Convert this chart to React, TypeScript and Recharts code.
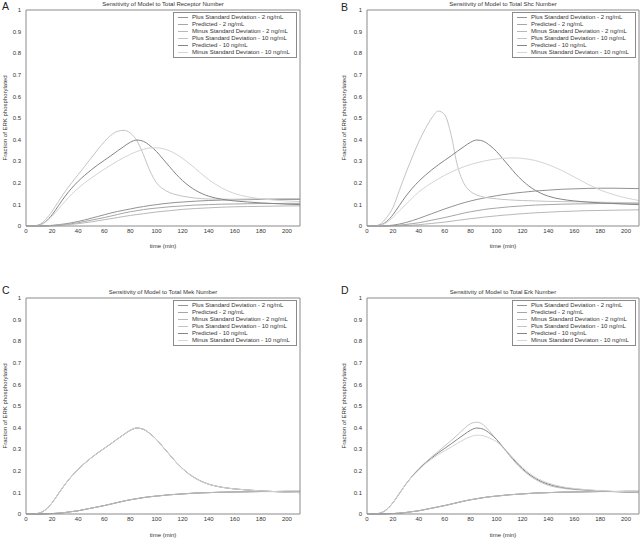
import { LineChart, Line, XAxis, YAxis, Legend, Label } from 'recharts';

// sample times (min)
const TIME = [0, 5, 10, 15, 20, 25, 30, 35, 40, 45, 50, 55, 60, 65, 70, 75, 80, 85, 90, 95, 100, 105, 110, 115, 120, 125, 130, 140, 150, 160, 170, 180, 190, 200, 210];
const X_TICKS = [0, 20, 40, 60, 80, 100, 120, 140, 160, 180, 200];
const Y_TICKS = [0, 0.1, 0.2, 0.3, 0.4, 0.5, 0.6, 0.7, 0.8, 0.9, 1];
const Y_TICK_LABELS = ['0', '0.1', '0.2', '0.3', '0.4', '0.5', '0.6', '0.7', '0.8', '0.9', '1'];

const SERIES_NAMES = [
  'Plus Standard Deviation - 2 ng/mL',
  'Predicted - 2 ng/mL',
  'Minus Standard Deviation - 2 ng/mL',
  'Plus Standard Deviation - 10 ng/mL',
  'Predicted - 10 ng/mL',
  'Minus Standard Deviaton - 10 ng/mL',
];
const SERIES_COLORS = ['#929292', '#a6a6a6', '#b8b8b8', '#c4c4c4', '#858585', '#d4d4d4'];

const TITLES = [
  'Sensitivity of Model to Total Receptor Number',
  'Sensitivity of Model to Total Shc Number',
  'Sensitivity of Model to Total Mek Number',
  'Sensitivity of Model to Total Erk Number',
];
const LETTERS = ['A', 'B', 'C', 'D'];

// baseline model curves
const PRED_10 = [0, 0, 0.004, 0.02, 0.052, 0.095, 0.138, 0.175, 0.207, 0.235, 0.26, 0.283, 0.304, 0.325, 0.347, 0.368, 0.388, 0.398, 0.392, 0.372, 0.345, 0.31, 0.275, 0.24, 0.21, 0.185, 0.165, 0.138, 0.124, 0.116, 0.111, 0.107, 0.104, 0.101, 0.099];
const PRED_2 = [0, 0, 0, 0.001, 0.002, 0.004, 0.007, 0.011, 0.015, 0.021, 0.027, 0.033, 0.039, 0.046, 0.053, 0.06, 0.066, 0.071, 0.076, 0.08, 0.083, 0.086, 0.089, 0.091, 0.093, 0.095, 0.097, 0.099, 0.101, 0.102, 0.103, 0.104, 0.104, 0.105, 0.105];

// A - receptor
const A_PLUS_2 = [0, 0, 0, 0.001, 0.003, 0.006, 0.01, 0.015, 0.021, 0.028, 0.036, 0.044, 0.052, 0.06, 0.067, 0.073, 0.079, 0.085, 0.09, 0.095, 0.099, 0.103, 0.106, 0.109, 0.111, 0.113, 0.115, 0.118, 0.12, 0.121, 0.122, 0.123, 0.123, 0.123, 0.123];
const A_MINUS_2 = [0, 0, 0, 0, 0.001, 0.003, 0.005, 0.008, 0.011, 0.015, 0.019, 0.024, 0.029, 0.034, 0.039, 0.044, 0.049, 0.053, 0.057, 0.061, 0.065, 0.068, 0.071, 0.074, 0.077, 0.079, 0.081, 0.084, 0.087, 0.089, 0.09, 0.091, 0.092, 0.093, 0.093];
const A_PLUS_10 = [0, 0, 0.006, 0.03, 0.068, 0.115, 0.16, 0.2, 0.238, 0.276, 0.315, 0.354, 0.39, 0.42, 0.438, 0.443, 0.43, 0.395, 0.33, 0.255, 0.2, 0.172, 0.155, 0.145, 0.138, 0.133, 0.129, 0.125, 0.124, 0.124, 0.125, 0.126, 0.126, 0.127, 0.127];
const A_MINUS_10 = [0, 0, 0.003, 0.018, 0.045, 0.08, 0.115, 0.147, 0.175, 0.2, 0.222, 0.243, 0.263, 0.282, 0.3, 0.317, 0.332, 0.345, 0.355, 0.361, 0.362, 0.358, 0.348, 0.333, 0.313, 0.29, 0.265, 0.215, 0.176, 0.15, 0.135, 0.126, 0.12, 0.116, 0.113];

// B - Shc
const B_PLUS_2 = [0, 0, 0, 0.001, 0.004, 0.009, 0.016, 0.025, 0.035, 0.046, 0.057, 0.068, 0.079, 0.089, 0.099, 0.108, 0.116, 0.123, 0.129, 0.135, 0.14, 0.145, 0.149, 0.153, 0.156, 0.159, 0.162, 0.166, 0.17, 0.172, 0.174, 0.175, 0.175, 0.174, 0.173];
const B_MINUS_2 = [0, 0, 0, 0, 0, 0.001, 0.002, 0.004, 0.006, 0.009, 0.012, 0.015, 0.018, 0.022, 0.026, 0.03, 0.034, 0.037, 0.041, 0.044, 0.047, 0.05, 0.052, 0.055, 0.057, 0.059, 0.061, 0.064, 0.067, 0.069, 0.071, 0.072, 0.073, 0.074, 0.075];
const B_PLUS_10 = [0, 0, 0.008, 0.038, 0.085, 0.165, 0.245, 0.32, 0.39, 0.45, 0.5, 0.532, 0.515, 0.42, 0.275, 0.195, 0.16, 0.143, 0.134, 0.129, 0.126, 0.123, 0.121, 0.119, 0.118, 0.117, 0.116, 0.114, 0.113, 0.112, 0.111, 0.11, 0.109, 0.108, 0.107];
const B_MINUS_10 = [0, 0, 0.003, 0.015, 0.04, 0.07, 0.1, 0.13, 0.158, 0.18, 0.2, 0.218, 0.235, 0.25, 0.263, 0.275, 0.285, 0.293, 0.3, 0.306, 0.31, 0.313, 0.315, 0.315, 0.313, 0.309, 0.303, 0.284, 0.258, 0.227, 0.195, 0.167, 0.146, 0.13, 0.118];

// D - Erk
const D_PLUS_10 = [0, 0, 0.004, 0.02, 0.052, 0.095, 0.138, 0.176, 0.21, 0.238, 0.265, 0.29, 0.315, 0.34, 0.367, 0.395, 0.418, 0.425, 0.412, 0.38, 0.345, 0.307, 0.27, 0.235, 0.205, 0.18, 0.16, 0.133, 0.12, 0.113, 0.109, 0.106, 0.104, 0.102, 0.1];
const D_MINUS_10 = [0, 0, 0.004, 0.02, 0.052, 0.095, 0.138, 0.174, 0.204, 0.232, 0.255, 0.275, 0.293, 0.31, 0.328, 0.345, 0.358, 0.365, 0.362, 0.35, 0.335, 0.308, 0.278, 0.245, 0.216, 0.19, 0.17, 0.143, 0.127, 0.118, 0.112, 0.108, 0.105, 0.103, 0.101];

// C: all variations overlap the prediction
const PANEL_SERIES = [
  [A_PLUS_2, PRED_2, A_MINUS_2, A_PLUS_10, PRED_10, A_MINUS_10],
  [B_PLUS_2, PRED_2, B_MINUS_2, B_PLUS_10, PRED_10, B_MINUS_10],
  [PRED_2, PRED_2, PRED_2, PRED_10, PRED_10, PRED_10],
  [PRED_2, PRED_2, PRED_2, D_PLUS_10, PRED_10, D_MINUS_10],
];

// layout
const LAYOUT = [
  { left: 0, top: 0, plotW: 274, letterX: 2, letterY: 10, yLabelOff: 5, xLabelOff: 8.5 },
  { left: 341, top: 0, plotW: 272, letterX: 341, letterY: 11, yLabelOff: 2.5, xLabelOff: 8.5 },
  { left: 0, top: 288, plotW: 274, letterX: 2, letterY: 294, yLabelOff: 5, xLabelOff: 7 },
  { left: 341, top: 288, plotW: 272, letterX: 341, letterY: 294, yLabelOff: 2.5, xLabelOff: 7 },
];

const FONT = '"Liberation Sans", Arial, sans-serif';
const FRAME = '#8a8a8a';
const INK = '#333';
const PLOT_H = 216;

function LegendBox() {
  return (
    <div style={{ border: `1px solid ${FRAME}`, background: '#fff', padding: '0.5px 3px 1px 4px', fontFamily: FONT, fontSize: 6, lineHeight: '7.1px', color: INK, whiteSpace: 'nowrap' }}>
      {SERIES_NAMES.map((n, i) => (
        <div key={n} style={{ display: 'flex', alignItems: 'center' }}>
          <span style={{ display: 'inline-block', width: 10, borderTop: `1px solid ${SERIES_COLORS[i]}`, marginRight: 4 }} />
          <span>{n}</span>
        </div>
      ))}
    </div>
  );
}

function Panel({ idx }: { idx: number }) {
  const lay = LAYOUT[idx];
  const series = PANEL_SERIES[idx];
  const rows = TIME.map((t, i) => {
    const r: Record<string, number> = { t };
    series.forEach((s, k) => { r['s' + k] = s[i]; });
    return r;
  });
  const W = 26 + lay.plotW + 2;
  const H = 10 + PLOT_H + 30;
  const axisText = { fontSize: 6, fill: INK, fontFamily: FONT };

  return (
    <div style={{ position: 'absolute', left: lay.left, top: lay.top, width: W, height: H }}>
      <LineChart width={W} height={H} data={rows} margin={{ top: 10, right: 2, bottom: 0, left: 0 }}>
        <XAxis xAxisId="b" dataKey="t" type="number" domain={[0, 210]} ticks={X_TICKS} interval={0}
          height={30} tickLine={false} tickSize={0} tickMargin={3} axisLine={{ stroke: FRAME }} tick={axisText}>
          <Label value="time (min)" position="insideBottom" offset={lay.xLabelOff} style={{ fontSize: 6, fill: INK, fontFamily: FONT }} />
        </XAxis>
        <XAxis xAxisId="bm" dataKey="t" type="number" domain={[0, 210]} ticks={X_TICKS} interval={0}
          orientation="bottom" mirror height={1} tick={false} tickSize={3} axisLine={false} tickLine={{ stroke: FRAME }} />
        <XAxis xAxisId="t" dataKey="t" type="number" domain={[0, 210]} ticks={X_TICKS} interval={0}
          orientation="top" mirror height={1} tick={false} tickSize={3} axisLine={{ stroke: FRAME }} tickLine={{ stroke: FRAME }}>
          <Label value={TITLES[idx]} position="top" offset={4} style={{ fontSize: 6, fill: INK, fontFamily: FONT }} />
        </XAxis>
        <YAxis yAxisId="l" type="number" domain={[0, 1]} ticks={Y_TICKS} interval={0} width={26}
          tickLine={false} tickSize={0} tickMargin={5} axisLine={{ stroke: FRAME }} tick={axisText}
          tickFormatter={(v: number, i: number) => Y_TICK_LABELS[i] ?? String(v)}>
          <Label value="Fraction of ERK phosphorylated" angle={-90} position="insideLeft" offset={lay.yLabelOff}
            style={{ textAnchor: 'middle', fontSize: 6, fill: INK, fontFamily: FONT }} />
        </YAxis>
        <YAxis yAxisId="lm" type="number" domain={[0, 1]} ticks={Y_TICKS} interval={0} mirror width={1}
          tick={false} tickSize={3} axisLine={false} tickLine={{ stroke: FRAME }} />
        <YAxis yAxisId="r" type="number" domain={[0, 1]} ticks={Y_TICKS} interval={0} orientation="right" mirror width={1}
          tick={false} tickSize={3} axisLine={{ stroke: FRAME }} tickLine={{ stroke: FRAME }} />
        <Legend verticalAlign="middle" align="center" layout="horizontal"
          wrapperStyle={{ left: 26 + lay.plotW - 127, top: 12, width: 124, height: 'auto' }}
          content={() => <LegendBox />} />
        {SERIES_NAMES.map((n, k) => (
          <Line key={n} name={n} xAxisId="b" yAxisId="l" dataKey={'s' + k} type="monotone" stroke={SERIES_COLORS[k]}
            strokeWidth={1} dot={false} activeDot={false} isAnimationActive={false} />
        ))}
      </LineChart>
    </div>
  );
}

export default function App() {
  return (
    <div style={{ position: 'absolute', left: 0, top: 0, width: 641, height: 538, background: '#fff', overflow: 'hidden' }}>
      {LAYOUT.map((_, i) => <Panel key={i} idx={i} />)}
      <svg width={641} height={538} style={{ position: 'absolute', left: 0, top: 0, pointerEvents: 'none' }}>
        {LAYOUT.map((l, i) => (
          <text key={i} x={l.letterX} y={l.letterY} fontSize={10.5} fill="#222" fontFamily={FONT}>{LETTERS[i]}</text>
        ))}
      </svg>
    </div>
  );
}
